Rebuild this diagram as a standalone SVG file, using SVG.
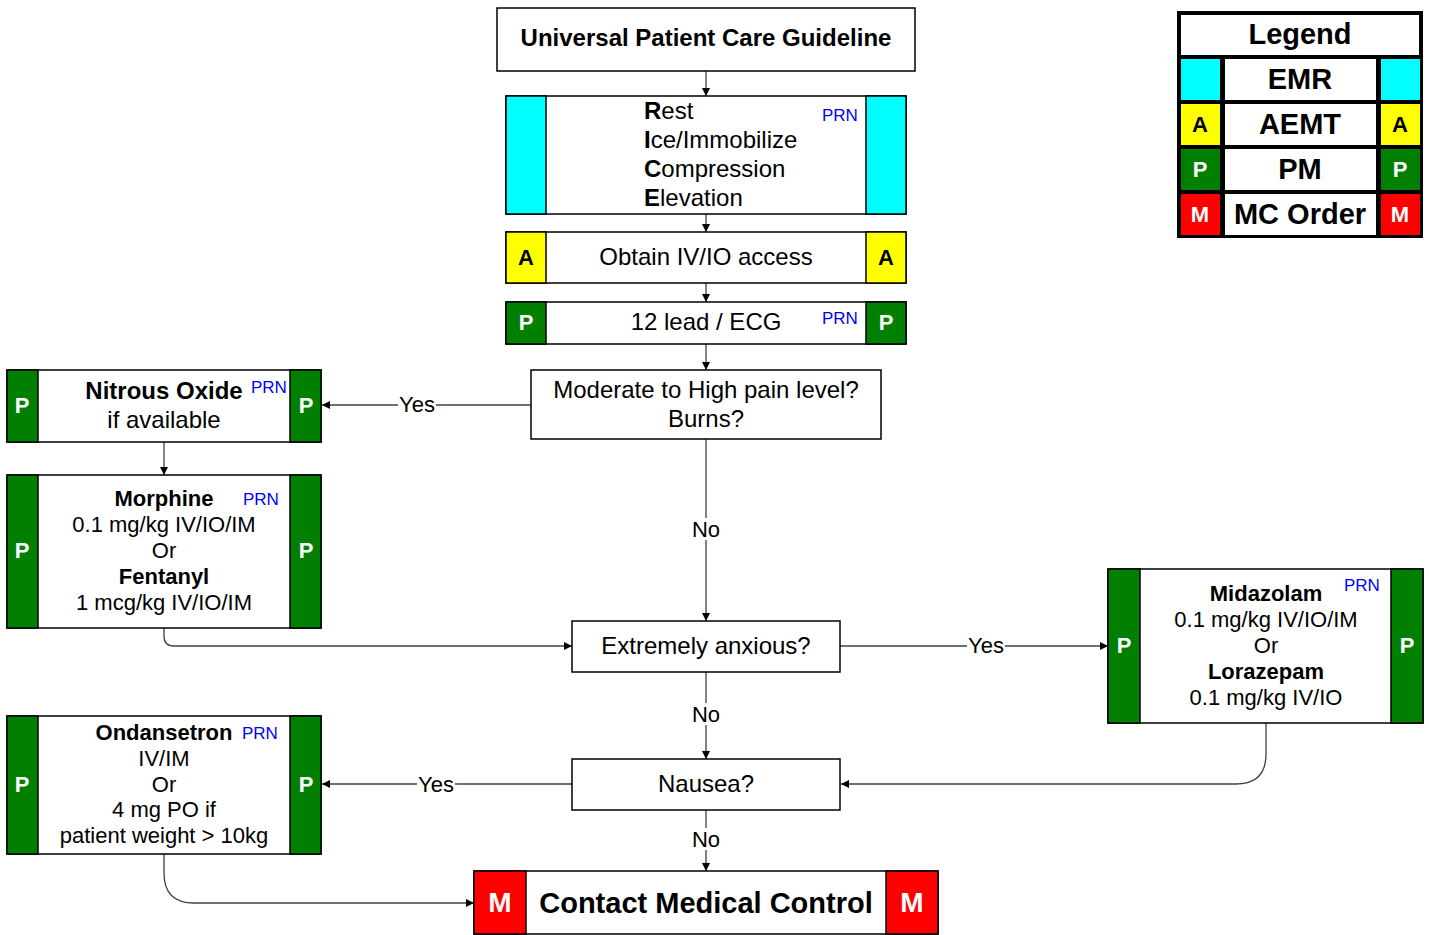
<svg xmlns="http://www.w3.org/2000/svg" width="1429" height="935" viewBox="0 0 1429 935">
<style>
text{font-family:"Liberation Sans",Arial,sans-serif;fill:#000}
.box{fill:#fff;stroke:#000;stroke-width:1.5}
.cy{fill:#00ffff;stroke:#000;stroke-width:1.5}
.ye{fill:#ffff00;stroke:#000;stroke-width:1.5}
.gr{fill:#007f00;stroke:#000;stroke-width:1.5}
.rd{fill:#ff0000;stroke:#000;stroke-width:1.5}
.t{font-size:24px;text-anchor:middle}
.tb{font-size:24px;font-weight:bold;text-anchor:middle}
.s{font-size:22px;text-anchor:middle}
.sb{font-size:22px;font-weight:bold;text-anchor:middle}
.tag{font-size:22px;font-weight:bold;text-anchor:middle;fill:#fff}
.tagk{font-size:22px;font-weight:bold;text-anchor:middle;fill:#000}
.prn{font-size:17px;fill:#0000ff}
.lbl{font-size:22px;text-anchor:middle}
.con{fill:none;stroke:#404040;stroke-width:1.3;marker-end:url(#ah)}
.lgt{font-size:29px;font-weight:bold;text-anchor:middle}
</style>
<defs>
<marker id="ah" viewBox="0 0 10 10" refX="10" refY="5" markerWidth="8" markerHeight="8" markerUnits="userSpaceOnUse" orient="auto">
<path d="M0,0 L10,5 L0,10 z" fill="#000"/>
</marker>
</defs>
<rect width="1429" height="935" fill="#fff"/>

<g id="connectors">
<line class="con" x1="706" y1="71" x2="706" y2="96"/>
<line class="con" x1="706" y1="214" x2="706" y2="232"/>
<line class="con" x1="706" y1="283" x2="706" y2="302"/>
<line class="con" x1="706" y1="344" x2="706" y2="370"/>
<line class="con" x1="531" y1="405" x2="322" y2="405"/>
<line class="con" x1="164" y1="442" x2="164" y2="475"/>
<line class="con" x1="706" y1="439" x2="706" y2="621"/>
<path class="con" d="M164,628 L164,636 Q164,646 174,646 L572,646"/>
<line class="con" x1="840" y1="646" x2="1108" y2="646"/>
<line class="con" x1="706" y1="672" x2="706" y2="759"/>
<path class="con" d="M1266,723 L1266,754 Q1266,784 1236,784 L841,784"/>
<line class="con" x1="572" y1="784" x2="322" y2="784"/>
<line class="con" x1="706" y1="810" x2="706" y2="871"/>
<path class="con" d="M164,854 L164,873 Q164,903 194,903 L474,903"/>
<rect x="398" y="394" width="38" height="22" fill="#fff"/>
<text class="lbl" x="417" y="412">Yes</text>
<rect x="692" y="518" width="28" height="22" fill="#fff"/>
<text class="lbl" x="706" y="537">No</text>
<rect x="967" y="635" width="38" height="22" fill="#fff"/>
<text class="lbl" x="986" y="653">Yes</text>
<rect x="692" y="703" width="28" height="22" fill="#fff"/>
<text class="lbl" x="706" y="722">No</text>
<rect x="417" y="773" width="38" height="22" fill="#fff"/>
<text class="lbl" x="436" y="792">Yes</text>
<rect x="692" y="828" width="28" height="22" fill="#fff"/>
<text class="lbl" x="706" y="847">No</text>
</g>

<g id="universal">
<rect class="box" x="497" y="8" width="418" height="63"/>
<text class="tb" x="706" y="46">Universal Patient Care Guideline</text>
</g>

<g id="rice">
<rect class="box" x="506" y="96" width="400" height="118"/>
<rect class="cy" x="506" y="96" width="40" height="118"/>
<rect class="cy" x="866" y="96" width="40" height="118"/>
<text x="644" y="119" style="font-size:24px"><tspan font-weight="bold">R</tspan>est</text>
<text x="644" y="148" style="font-size:24px"><tspan font-weight="bold">I</tspan>ce/Immobilize</text>
<text x="644" y="177" style="font-size:24px"><tspan font-weight="bold">C</tspan>ompression</text>
<text x="644" y="206" style="font-size:24px"><tspan font-weight="bold">E</tspan>levation</text>
<text class="prn" x="822" y="121">PRN</text>
</g>

<g id="iv">
<rect class="box" x="506" y="232" width="400" height="51"/>
<rect class="ye" x="506" y="232" width="40" height="51"/>
<rect class="ye" x="866" y="232" width="40" height="51"/>
<text class="tagk" x="526" y="265">A</text>
<text class="tagk" x="886" y="265">A</text>
<text class="t" x="706" y="265">Obtain IV/IO access</text>
</g>

<g id="ecg">
<rect class="box" x="506" y="302" width="400" height="42"/>
<rect class="gr" x="506" y="302" width="40" height="42"/>
<rect class="gr" x="866" y="302" width="40" height="42"/>
<text class="tag" x="526" y="330">P</text>
<text class="tag" x="886" y="330">P</text>
<text class="t" x="706" y="330">12 lead / ECG</text>
<text class="prn" x="822" y="324">PRN</text>
</g>

<g id="pain">
<rect class="box" x="531" y="370" width="350" height="69"/>
<text class="t" x="706" y="398">Moderate to High pain level?</text>
<text class="t" x="706" y="427">Burns?</text>
</g>

<g id="nitrous">
<rect class="box" x="7" y="370" width="314" height="72"/>
<rect class="gr" x="7" y="370" width="31" height="72"/>
<rect class="gr" x="290" y="370" width="31" height="72"/>
<text class="tag" x="22" y="413">P</text>
<text class="tag" x="306" y="413">P</text>
<text class="tb" x="164" y="399">Nitrous Oxide</text>
<text class="t" x="164" y="428">if available</text>
<text class="prn" x="251" y="393">PRN</text>
</g>

<g id="morphine">
<rect class="box" x="7" y="475" width="314" height="153"/>
<rect class="gr" x="7" y="475" width="31" height="153"/>
<rect class="gr" x="290" y="475" width="31" height="153"/>
<text class="tag" x="22" y="558">P</text>
<text class="tag" x="306" y="558">P</text>
<text class="sb" x="164" y="506">Morphine</text>
<text class="s" x="164" y="532">0.1 mg/kg IV/IO/IM</text>
<text class="s" x="164" y="558">Or</text>
<text class="sb" x="164" y="584">Fentanyl</text>
<text class="s" x="164" y="610">1 mcg/kg IV/IO/IM</text>
<text class="prn" x="243" y="505">PRN</text>
</g>

<g id="anxious">
<rect class="box" x="572" y="621" width="268" height="51"/>
<text class="t" x="706" y="654">Extremely anxious?</text>
</g>

<g id="midazolam">
<rect class="box" x="1108" y="569" width="315" height="154"/>
<rect class="gr" x="1108" y="569" width="32" height="154"/>
<rect class="gr" x="1391" y="569" width="32" height="154"/>
<text class="tag" x="1124" y="653">P</text>
<text class="tag" x="1407" y="653">P</text>
<text class="sb" x="1266" y="601">Midazolam</text>
<text class="s" x="1266" y="627">0.1 mg/kg IV/IO/IM</text>
<text class="s" x="1266" y="653">Or</text>
<text class="sb" x="1266" y="679">Lorazepam</text>
<text class="s" x="1266" y="705">0.1 mg/kg IV/IO</text>
<text class="prn" x="1344" y="591">PRN</text>
</g>

<g id="nausea">
<rect class="box" x="572" y="759" width="268" height="51"/>
<text class="t" x="706" y="792">Nausea?</text>
</g>

<g id="ondansetron">
<rect class="box" x="7" y="716" width="314" height="138"/>
<rect class="gr" x="7" y="716" width="31" height="138"/>
<rect class="gr" x="290" y="716" width="31" height="138"/>
<text class="tag" x="22" y="792">P</text>
<text class="tag" x="306" y="792">P</text>
<text class="sb" x="164" y="740">Ondansetron</text>
<text class="s" x="164" y="766">IV/IM</text>
<text class="s" x="164" y="792">Or</text>
<text class="s" x="164" y="817">4 mg PO if</text>
<text class="s" x="164" y="843">patient weight &gt; 10kg</text>
<text class="prn" x="242" y="739">PRN</text>
</g>

<g id="contact">
<rect class="box" x="474" y="871" width="464" height="63"/>
<rect class="rd" x="474" y="871" width="52" height="63"/>
<rect class="rd" x="886" y="871" width="52" height="63"/>
<text class="tag" x="500" y="912" style="font-size:28px">M</text>
<text class="tag" x="912" y="912" style="font-size:28px">M</text>
<text class="tb" x="706" y="913" style="font-size:29px">Contact Medical Control</text>
</g>

<g id="legend">
<rect x="1177" y="11" width="246" height="227" fill="#000"/>
<rect x="1181" y="15" width="238" height="40" fill="#fff"/>
<text class="lgt" x="1300" y="44">Legend</text>
<rect x="1181" y="59" width="39" height="41" fill="#00ffff"/>
<rect x="1225" y="59" width="151" height="41" fill="#fff"/>
<rect x="1381" y="59" width="39" height="41" fill="#00ffff"/>
<text class="lgt" x="1300" y="89">EMR</text>
<rect x="1181" y="104" width="39" height="41" fill="#ffff00"/>
<rect x="1225" y="104" width="151" height="41" fill="#fff"/>
<rect x="1381" y="104" width="39" height="41" fill="#ffff00"/>
<text class="lgt" x="1300" y="134">AEMT</text>
<text class="tagk" x="1200" y="132">A</text>
<text class="tagk" x="1400" y="132">A</text>
<rect x="1181" y="149" width="39" height="41" fill="#007f00"/>
<rect x="1225" y="149" width="151" height="41" fill="#fff"/>
<rect x="1381" y="149" width="39" height="41" fill="#007f00"/>
<text class="lgt" x="1300" y="179">PM</text>
<text class="tag" x="1200" y="177">P</text>
<text class="tag" x="1400" y="177">P</text>
<rect x="1181" y="194" width="39" height="41" fill="#ff0000"/>
<rect x="1225" y="194" width="151" height="41" fill="#fff"/>
<rect x="1381" y="194" width="39" height="41" fill="#ff0000"/>
<text class="lgt" x="1300" y="224">MC Order</text>
<text class="tag" x="1200" y="222">M</text>
<text class="tag" x="1400" y="222">M</text>
</g>
</svg>
